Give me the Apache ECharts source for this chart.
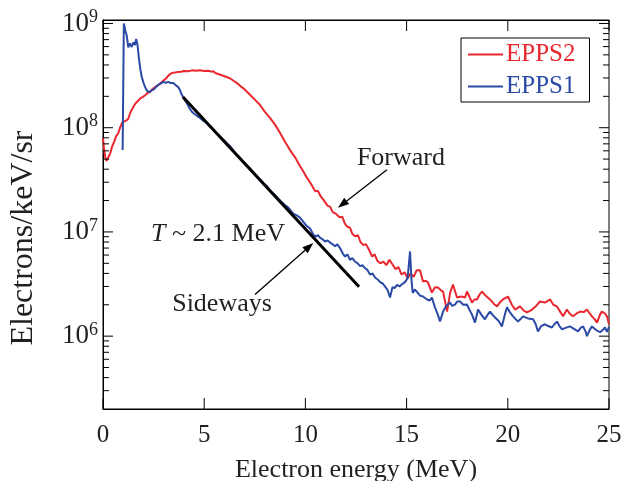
<!DOCTYPE html>
<html><head><meta charset="utf-8">
<script src="https://cdn.jsdelivr.net/npm/echarts@6/dist/echarts.min.js"></script>
<style>html,body{margin:0;padding:0;background:#fff}#c{width:630px;height:481px}</style>
</head><body><div id="c"></div>
<script>
// ---------- data ----------
const xTickValues = [0, 5, 10, 15, 20, 25];
const yMajorTicks = [1e6, 1e7, 1e8, 1e9];
const yMinorTicks = [3e5,4e5,5e5,6e5,7e5,8e5,9e5,
  2e6,3e6,4e6,5e6,6e6,7e6,8e6,9e6,
  2e7,3e7,4e7,5e7,6e7,7e7,8e7,9e7,
  2e8,3e8,4e8,5e8,6e8,7e8,8e8,9e8];
const seriesNames = ['EPPS2', 'EPPS1'];
const epps2 = [
 [0.0,8.0e7],[0.05,6.3e7],[0.12,5.1e7],[0.18,4.8e7],[0.26,5.2e7],[0.35,5.6e7],[0.45,6.6e7],[0.55,7.3e7],
 [0.65,8.3e7],[0.75,8.8e7],[0.84,1.0e8],[0.95,1.12e8],[1.05,1.15e8],[1.15,1.17e8],[1.25,1.22e8],[1.35,1.40e8],
 [1.45,1.52e8],[1.55,1.65e8],[1.65,1.75e8],[1.75,1.82e8],[1.85,1.92e8],[1.95,1.96e8],[2.08,2.05e8],[2.2,2.15e8],
 [2.32,2.2e8],[2.45,2.35e8],[2.57,2.45e8],[2.7,2.55e8],[2.82,2.65e8],[2.95,2.8e8],[3.1,2.95e8],[3.25,3.2e8],
 [3.4,3.35e8],[3.55,3.38e8],[3.7,3.42e8],[3.85,3.45e8],[4.0,3.5e8],[4.2,3.48e8],[4.4,3.55e8],[4.6,3.52e8],
 [4.8,3.56e8],[5.0,3.5e8],[5.2,3.52e8],[5.35,3.45e8],[5.45,3.48e8],[5.55,3.35e8],[5.8,3.22e8],[6.0,3.12e8],
 [6.27,2.98e8],[6.45,2.82e8],[6.62,2.68e8],[6.8,2.5e8],[6.92,2.4e8],[7.15,2.18e8],[7.36,1.98e8],[7.55,1.82e8],
 [7.76,1.65e8],[8.0,1.42e8],[8.25,1.24e8],[8.5,1.07e8],[8.75,8.9e7],[9.0,7.3e7],[9.24,6.1e7],[9.49,5.2e7],
 [9.73,4.3e7],[9.9,3.8e7],[10.08,3.3e7],[10.25,2.95e7],[10.4,2.62e7],[10.5,2.45e7],[10.62,2.48e7],[10.75,2.2e7],
 [10.9,2.02e7],[11.0,1.9e7],[11.1,1.78e7],[11.22,1.75e7],[11.35,1.55e7],[11.5,1.5e7],[11.62,1.42e7],[11.72,1.38e7],
 [11.82,1.4e7],[11.95,1.2e7],[12.08,1.12e7],[12.2,1.1e7],[12.32,9.6e6],[12.45,9.1e6],[12.6,9.3e6],[12.72,8.0e6],
 [12.85,7.5e6],[13.0,7.6e6],[13.15,6.7e6],[13.3,5.8e6],[13.42,6.1e6],[13.55,5.3e6],[13.7,5.0e6],[13.85,5.2e6],
 [14.0,4.8e6],[14.15,5.4e6],[14.3,4.9e6],[14.45,4.4e6],[14.6,4.6e6],[14.75,3.9e6],[14.9,4.1e6],[15.05,3.6e6],
 [15.2,4.0e6],[15.35,3.7e6],[15.5,4.3e6],[15.66,4.3e6],[15.81,3.34e6],[15.95,3.4e6],[16.06,3.27e6],[16.25,2.62e6],
 [16.4,2.95e6],[16.55,2.93e6],[16.7,2.75e6],[16.8,2.68e6],[17.0,1.72e6],[17.15,2.6e6],[17.29,3.13e6],[17.49,2.35e6],
 [17.7,2.4e6],[17.89,2.35e6],[17.98,2.68e6],[18.1,2.4e6],[18.23,2.1e6],[18.35,2.25e6],[18.48,2.25e6],[18.6,2.5e6],
 [18.73,2.68e6],[18.9,2.45e6],[19.12,2.25e6],[19.3,2.05e6],[19.47,1.93e6],[19.6,2.1e6],[19.76,2.25e6],[20.01,2.4e6],
 [20.2,2.0e6],[20.36,1.8e6],[20.6,1.93e6],[20.8,1.75e6],[20.95,1.69e6],[21.2,1.8e6],[21.4,1.95e6],[21.59,2.15e6],
 [21.84,2.1e6],[22.09,2.25e6],[22.25,2.0e6],[22.43,1.93e6],[22.6,1.7e6],[22.73,1.55e6],[22.92,1.8e6],[23.05,1.65e6],
 [23.22,1.55e6],[23.4,1.65e6],[23.57,1.72e6],[23.75,1.7e6],[23.91,1.8e6],[24.05,1.65e6],[24.16,1.55e6],[24.3,1.45e6],
 [24.41,1.35e6],[24.55,1.6e6],[24.65,1.72e6],[24.8,1.65e6],[24.9,1.55e6],[25.0,1.3e6]
];
const epps1 = [
 [0.97,6.1e7],[1.03,1.0e9],[1.1,8.6e8],[1.17,7.7e8],[1.25,5.9e8],[1.33,6.45e8],[1.42,5.95e8],[1.5,6.6e8],
 [1.58,6.2e8],[1.64,7.1e8],[1.7,6.3e8],[1.79,4.4e8],[1.85,3.6e8],[1.91,3.1e8],[2.0,2.7e8],[2.08,2.45e8],
 [2.18,2.25e8],[2.29,2.2e8],[2.4,2.28e8],[2.5,2.32e8],[2.62,2.45e8],[2.73,2.58e8],[2.85,2.65e8],[2.98,2.75e8],
 [3.1,2.7e8],[3.23,2.75e8],[3.35,2.68e8],[3.47,2.68e8],[3.6,2.55e8],[3.72,2.45e8],[3.8,2.3e8],[3.89,2.08e8],
 [4.0,1.9e8],[4.14,1.72e8],[4.26,1.55e8],[4.38,1.43e8],[4.5,1.36e8],[4.65,1.3e8],[4.79,1.24e8],[4.95,1.17e8],
 [5.1,1.12e8],[5.25,1.04e8],[5.4,9.8e7],[5.55,9.1e7],[5.7,8.5e7],[5.85,8.0e7],[6.0,7.5e7],[6.15,7.0e7],
 [6.3,6.6e7],[6.45,6.0e7],[6.6,5.5e7],[6.75,5.2e7],[6.9,4.8e7],[7.05,4.5e7],[7.2,4.2e7],[7.35,3.9e7],
 [7.5,3.62e7],[7.65,3.35e7],[7.8,3.15e7],[7.95,2.9e7],[8.1,2.75e7],[8.25,2.5e7],[8.4,2.35e7],[8.55,2.2e7],
 [8.7,2.05e7],[8.85,1.92e7],[9.0,1.8e7],[9.12,1.74e7],[9.24,1.64e7],[9.4,1.5e7],[9.55,1.45e7],[9.73,1.37e7],
 [9.9,1.25e7],[10.05,1.15e7],[10.23,1.08e7],[10.38,9.5e6],[10.5,9.0e6],[10.62,9.3e6],[10.72,8.8e6],[10.85,8.5e6],
 [10.97,8.1e6],[11.1,8.3e6],[11.22,7.9e6],[11.35,7.6e6],[11.46,7.3e6],[11.58,7.6e6],[11.71,7.0e6],[11.85,6.2e6],
 [11.96,5.8e6],[12.08,6.1e6],[12.2,5.4e6],[12.32,5.6e6],[12.45,5.2e6],[12.58,5.0e6],[12.7,4.7e6],[12.82,4.8e6],
 [12.94,4.5e6],[13.07,4.3e6],[13.19,3.9e6],[13.32,4.0e6],[13.44,3.65e6],[13.57,3.5e6],[13.69,3.3e6],[13.82,3.2e6],
 [13.93,3.0e6],[14.05,2.8e6],[14.18,2.35e6],[14.3,2.95e6],[14.42,2.9e6],[14.53,3.1e6],[14.65,3.0e6],[14.77,3.15e6],
 [14.92,3.3e6],[15.05,3.6e6],[15.17,6.5e6],[15.24,3.5e6],[15.3,2.6e6],[15.4,2.8e6],[15.5,2.68e6],[15.66,2.45e6],
 [15.81,2.4e6],[16.01,2.25e6],[16.15,2.2e6],[16.25,2.35e6],[16.4,1.89e6],[16.55,1.6e6],[16.65,1.38e6],[16.8,1.72e6],
 [16.95,1.95e6],[17.14,2.1e6],[17.25,1.95e6],[17.39,2.01e6],[17.5,2.15e6],[17.64,2.15e6],[17.8,2.0e6],[17.98,2.01e6],
 [18.1,1.8e6],[18.23,1.61e6],[18.38,1.35e6],[18.53,1.8e6],[18.7,1.6e6],[18.87,1.45e6],[19.0,1.6e6],[19.12,1.72e6],
 [19.25,1.6e6],[19.37,1.51e6],[19.55,1.4e6],[19.71,1.24e6],[19.85,1.6e6],[19.96,1.89e6],[20.1,1.7e6],[20.26,1.55e6],
 [20.4,1.45e6],[20.5,1.38e6],[20.62,1.45e6],[20.75,1.55e6],[21.0,1.48e6],[21.25,1.45e6],[21.38,1.3e6],[21.49,1.11e6],
 [21.65,1.25e6],[21.84,1.3e6],[22.0,1.25e6],[22.18,1.21e6],[22.3,1.3e6],[22.43,1.38e6],[22.55,1.25e6],[22.68,1.16e6],
 [22.85,1.2e6],[23.07,1.24e6],[23.25,1.18e6],[23.47,1.11e6],[23.6,1.2e6],[23.72,1.24e6],[23.85,1.1e6],[23.91,1.0e6],
 [24.05,1.15e6],[24.16,1.24e6],[24.35,1.15e6],[24.56,1.09e6],[24.7,1.15e6],[24.8,1.21e6],[24.9,1.1e6],[25.0,1.22e6]
];
const fitLine = [[3.95, 1.97e8], [12.65, 2.98e6]];

// ---------- chart ----------
const RED = '#e8282e', BLUE = '#2b4aa5', INK = '#231f20';
const FONT = 'Liberation Serif';
const X_MIN = 0, X_MAX = 25, Y_MIN = 2e5, Y_MAX = 1.08e9;

const chart = echarts.init(document.getElementById('c'), null, {renderer: 'canvas'});
function yLabel(v) {
  const e = Math.log10(v), r = Math.round(e);
  if (Math.abs(e - r) > 1e-6) return '';
  return '{b|10}{s|' + r + '}';
}
const option = {
  animation: false,
  backgroundColor: '#fff',
  grid: {left: 103, right: 21, top: 20, bottom: 72, containLabel: false, outerBoundsMode: 'none',
         show: true, borderColor: '#000', borderWidth: 1},
  legend: {
    left: 461, top: 38, orient: 'vertical',
    data: [{name: seriesNames[0], textStyle: {color: RED}}, {name: seriesNames[1], textStyle: {color: BLUE}}],
    icon: 'rect', itemWidth: 35, itemHeight: 2, itemGap: 7,
    padding: [4, 14, 3, 7],
    borderColor: '#000', borderWidth: 1,
    textStyle: {fontFamily: FONT, fontSize: 25, lineHeight: 25, padding: [0, 0, 0, -2]}
  },
  xAxis: [{
    type: 'value', min: X_MIN, max: X_MAX, interval: 5, position: 'bottom',
    axisLine: {show: true, lineStyle: {color: '#000', width: 1}},
    axisTick: {show: false},
    splitLine: {show: false},
    axisLabel: {fontFamily: FONT, fontSize: 25, color: INK, margin: 14,
      formatter: v => xTickValues.includes(v) ? String(v) : ''},
    name: 'Electron energy (MeV)', nameLocation: 'middle', nameGap: 48,
    nameTextStyle: {fontFamily: FONT, fontSize: 26, color: INK}
  }, {
    type: 'value', min: X_MIN, max: X_MAX, interval: 5, position: 'top',
    axisLine: {show: true, lineStyle: {color: '#000', width: 1}},
    axisTick: {show: false}, axisLabel: {show: false}, splitLine: {show: false}
  }],
  yAxis: [{
    type: 'log', logBase: 10, min: Y_MIN, max: Y_MAX, position: 'left',
    axisLine: {show: true, lineStyle: {color: '#000', width: 1}},
    axisTick: {show: false},
    splitLine: {show: false},
    axisLabel: {margin: 5, formatter: yLabel,
      rich: {b: {fontFamily: FONT, fontSize: 27, lineHeight: 30, color: INK},
             s: {fontFamily: FONT, fontSize: 18, lineHeight: 22, verticalAlign: 'top', color: INK}}}
  }, {
    type: 'log', logBase: 10, min: Y_MIN, max: Y_MAX, position: 'right',
    axisLine: {show: true, lineStyle: {color: '#000', width: 1}},
    axisTick: {show: false}, axisLabel: {show: false}, splitLine: {show: false}
  }],
  series: [
    {name: seriesNames[0], type: 'line', data: epps2, symbol: 'none', showSymbol: false,
     lineStyle: {color: RED, width: 2}, itemStyle: {color: RED}, z: 3},
    {name: seriesNames[1], type: 'line', data: epps1, symbol: 'none', showSymbol: false,
     lineStyle: {color: BLUE, width: 2}, itemStyle: {color: BLUE}, z: 4},
    {name: 'fit', type: 'line', data: fitLine, symbol: 'none', showSymbol: false,
     lineStyle: {color: '#000', width: 3}, z: 5}
  ]
};
chart.setOption(option);

// ---------- ticks & annotations (positions from the library's scales) ----------
function px(E, v) { return chart.convertToPixel({xAxisIndex: 0, yAxisIndex: 0}, [E, v]); }
function seg(x1, y1, x2, y2, w) {
  return {type: 'line', shape: {x1: x1, y1: y1, x2: x2, y2: y2}, style: {stroke: '#000', lineWidth: w || 1}, z: 20, silent: true};
}
const ticks = [];
xTickValues.forEach(E => {
  const b = px(E, Y_MIN), t = px(E, Y_MAX);
  ticks.push(seg(b[0], b[1], b[0], b[1] - 11), seg(t[0], t[1], t[0], t[1] + 11));
});
yMajorTicks.forEach(v => {
  const l = px(X_MIN, v), r = px(X_MAX, v);
  ticks.push(seg(l[0], l[1], l[0] + 10, l[1]), seg(r[0], r[1], r[0] - 10, r[1]));
});
yMinorTicks.forEach(v => {
  const l = px(X_MIN, v), r = px(X_MAX, v);
  ticks.push(seg(l[0], l[1], l[0] + 6, l[1]), seg(r[0], r[1], r[0] - 6, r[1]));
});
function arrow(from, to) {
  const a = px(from[0], from[1]), b = px(to[0], to[1]);
  const dx = b[0] - a[0], dy = b[1] - a[1], L = Math.hypot(dx, dy);
  const ux = dx / L, uy = dy / L, hl = 11, hw = 4;
  const bx = b[0] - ux * hl, by = b[1] - uy * hl;
  return [
    seg(a[0], a[1], bx, by, 1.3),
    {type: 'polygon', shape: {points: [[b[0], b[1]], [bx - uy * hw, by + ux * hw], [bx + uy * hw, by - ux * hw]]},
     style: {fill: '#000'}, z: 20, silent: true}
  ];
}
function label(E, v, text, rich) {
  const p = px(E, v);
  return {type: 'text', x: p[0], y: p[1], z: 20, silent: true,
    style: {text: text, fontFamily: FONT, fontSize: 26, fill: INK, align: 'center', verticalAlign: 'middle', rich: rich || {}}};
}
chart.setOption({graphic: [
  ...ticks,
  label(14.72, 5.15e7, 'Forward'),
  ...arrow([14.03, 3.95e7], [11.61, 1.71e7]),
  label(5.88, 2.01e6, 'Sideways'),
  ...arrow([7.51, 2.51e6], [10.39, 7.85e6]),
  label(5.68, 9.42e6, '{i|T} ~ 2.1 MeV', {i: {fontFamily: FONT, fontSize: 26, fontStyle: 'italic', fill: INK}}),
  {type: 'text', x: 23.5, y: 238, rotation: Math.PI / 2, z: 20, silent: true,
   style: {text: 'Electrons/keV/sr', fontFamily: FONT, fontSize: 32, fill: INK, align: 'center', verticalAlign: 'middle'}}
]});
</script></body></html>
